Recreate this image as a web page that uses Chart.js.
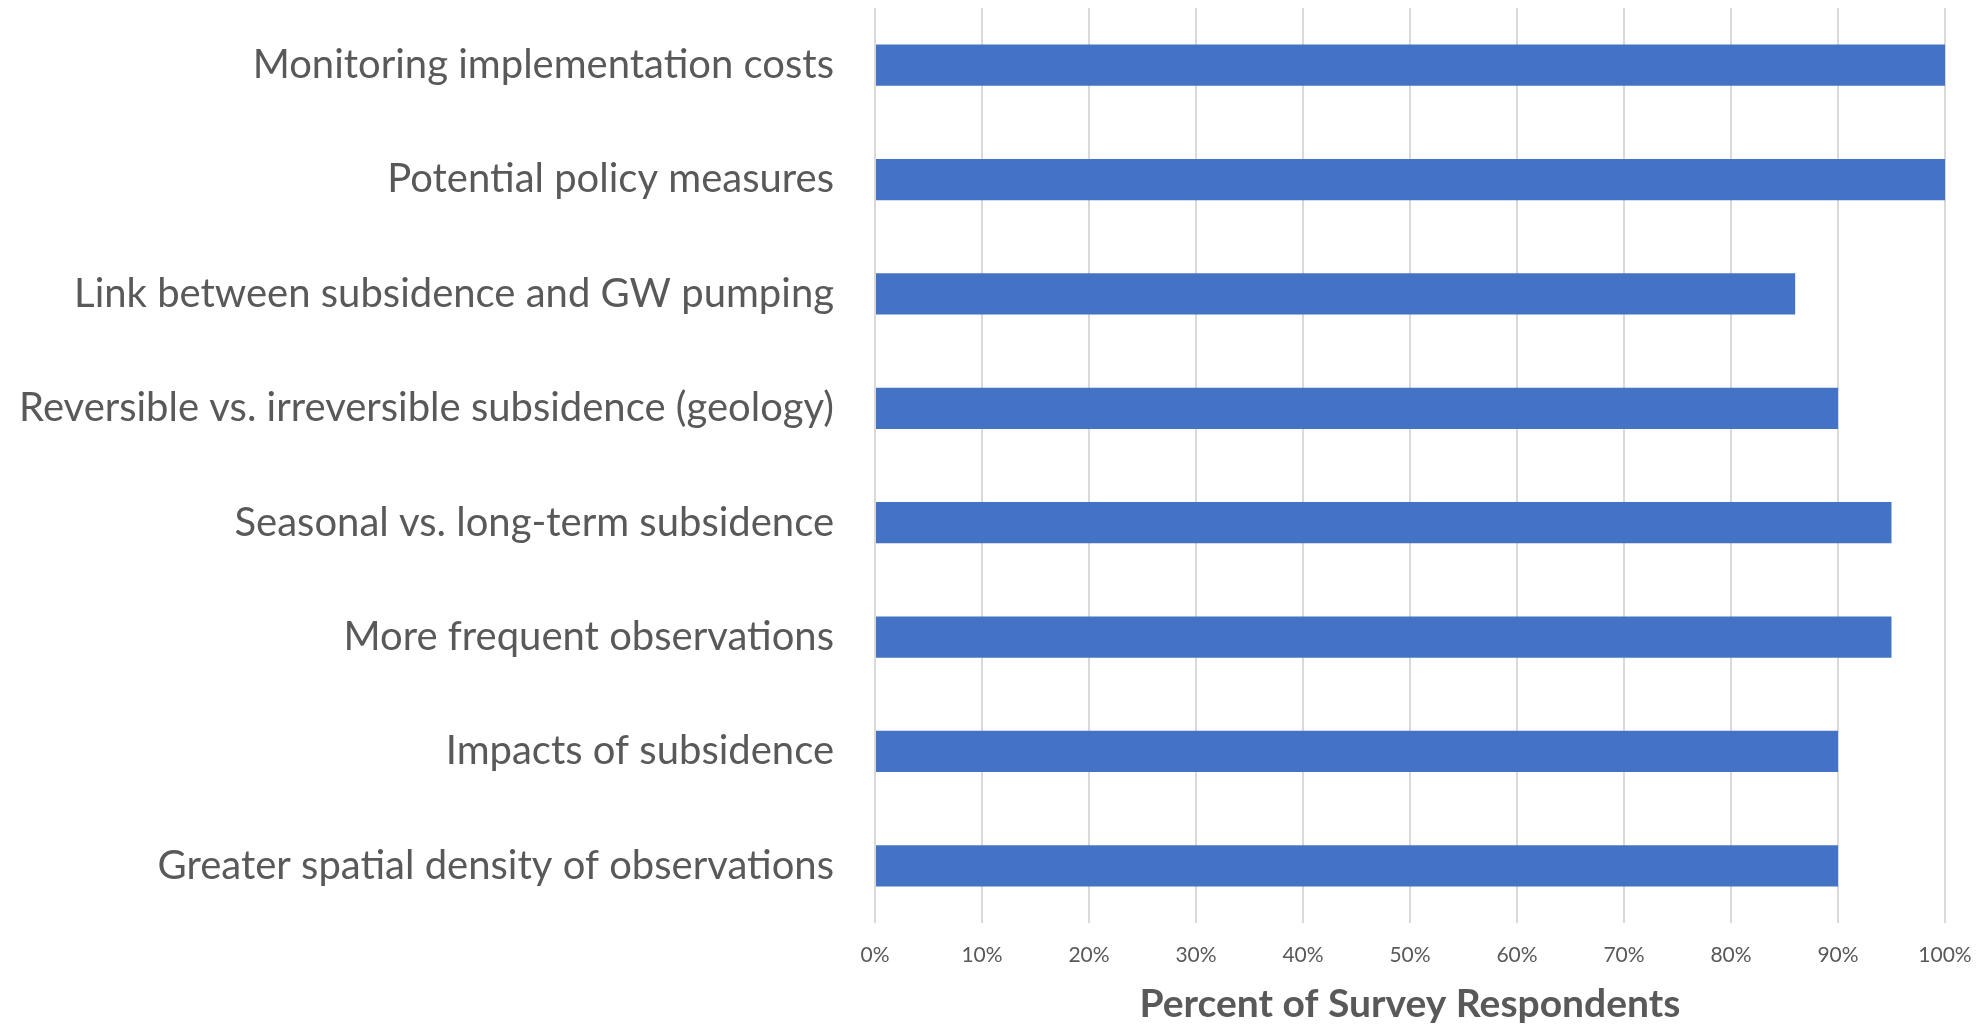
<!DOCTYPE html>
<html>
<head>
<meta charset="utf-8">
<script src="https://cdn.jsdelivr.net/npm/chart.js@4.4.1/dist/chart.umd.min.js"></script>
<style>
  html, body { margin: 0; padding: 0; background: #ffffff; }
  #wrap { width: 1988px; height: 1024px; }
</style>
</head>
<body>
<div id="wrap"><canvas id="surveyChart" width="1988" height="1024"></canvas></div>
<script>
// topics asked about, listed top to bottom
const topics = [
  'Monitoring implementation costs',
  'Potential policy measures',
  'Link between subsidence and GW pumping',
  'Reversible vs. irreversible subsidence (geology)',
  'Seasonal vs. long-term subsidence',
  'More frequent observations',
  'Impacts of subsidence',
  'Greater spatial density of observations'
];
// share of respondents (%)
const percentValues = [100, 100, 86, 90, 95, 95, 90, 90];
const percentTicks = [0, 10, 20, 30, 40, 50, 60, 70, 80, 90, 100];

const textGrey = '#595959';

const ctx = document.getElementById('surveyChart').getContext('2d');
new Chart(ctx, {
  type: 'bar',
  data: {
    labels: topics,
    datasets: [{
      data: percentValues,
      backgroundColor: '#4472C4',
      borderWidth: 0,
      categoryPercentage: 1,
      barPercentage: 0.36
    }]
  },
  options: {
    indexAxis: 'y',
    responsive: false,
    animation: false,
    layout: { padding: { top: 8, right: 43, left: 0, bottom: 0 } },
    plugins: {
      legend: { display: false },
      tooltip: { enabled: false }
    },
    scales: {
      x: {
        min: 0,
        max: 100,
        afterFit: (scale) => {
          scale.height = 101;
          scale.paddingLeft = 0;
          scale.paddingRight = 0;
        },
        afterBuildTicks: (scale) => {
          scale.ticks = percentTicks.map(v => ({ value: v }));
        },
        ticks: {
          padding: 20,
          color: textGrey,
          font: { family: 'Lato', size: 21 },
          callback: (v) => v + '%'
        },
        grid: { color: '#d9d9d9', lineWidth: 2, drawTicks: false },
        border: { display: false },
        title: {
          display: true,
          text: 'Percent of Survey Respondents',
          color: textGrey,
          font: { family: 'Lato', size: 39, weight: 'bold', lineHeight: 1 },
          padding: { top: 0, bottom: 0 }
        }
      },
      y: {
        afterFit: (scale) => {
          scale.width = 875;
          scale.paddingTop = 0;
          scale.paddingBottom = 0;
        },
        grid: { display: false, drawTicks: false },
        border: { display: false },
        ticks: {
          padding: 41,
          color: textGrey,
          font: { family: 'Lato', size: 40 }
        }
      }
    }
  }
});
</script>
</body>
</html>
